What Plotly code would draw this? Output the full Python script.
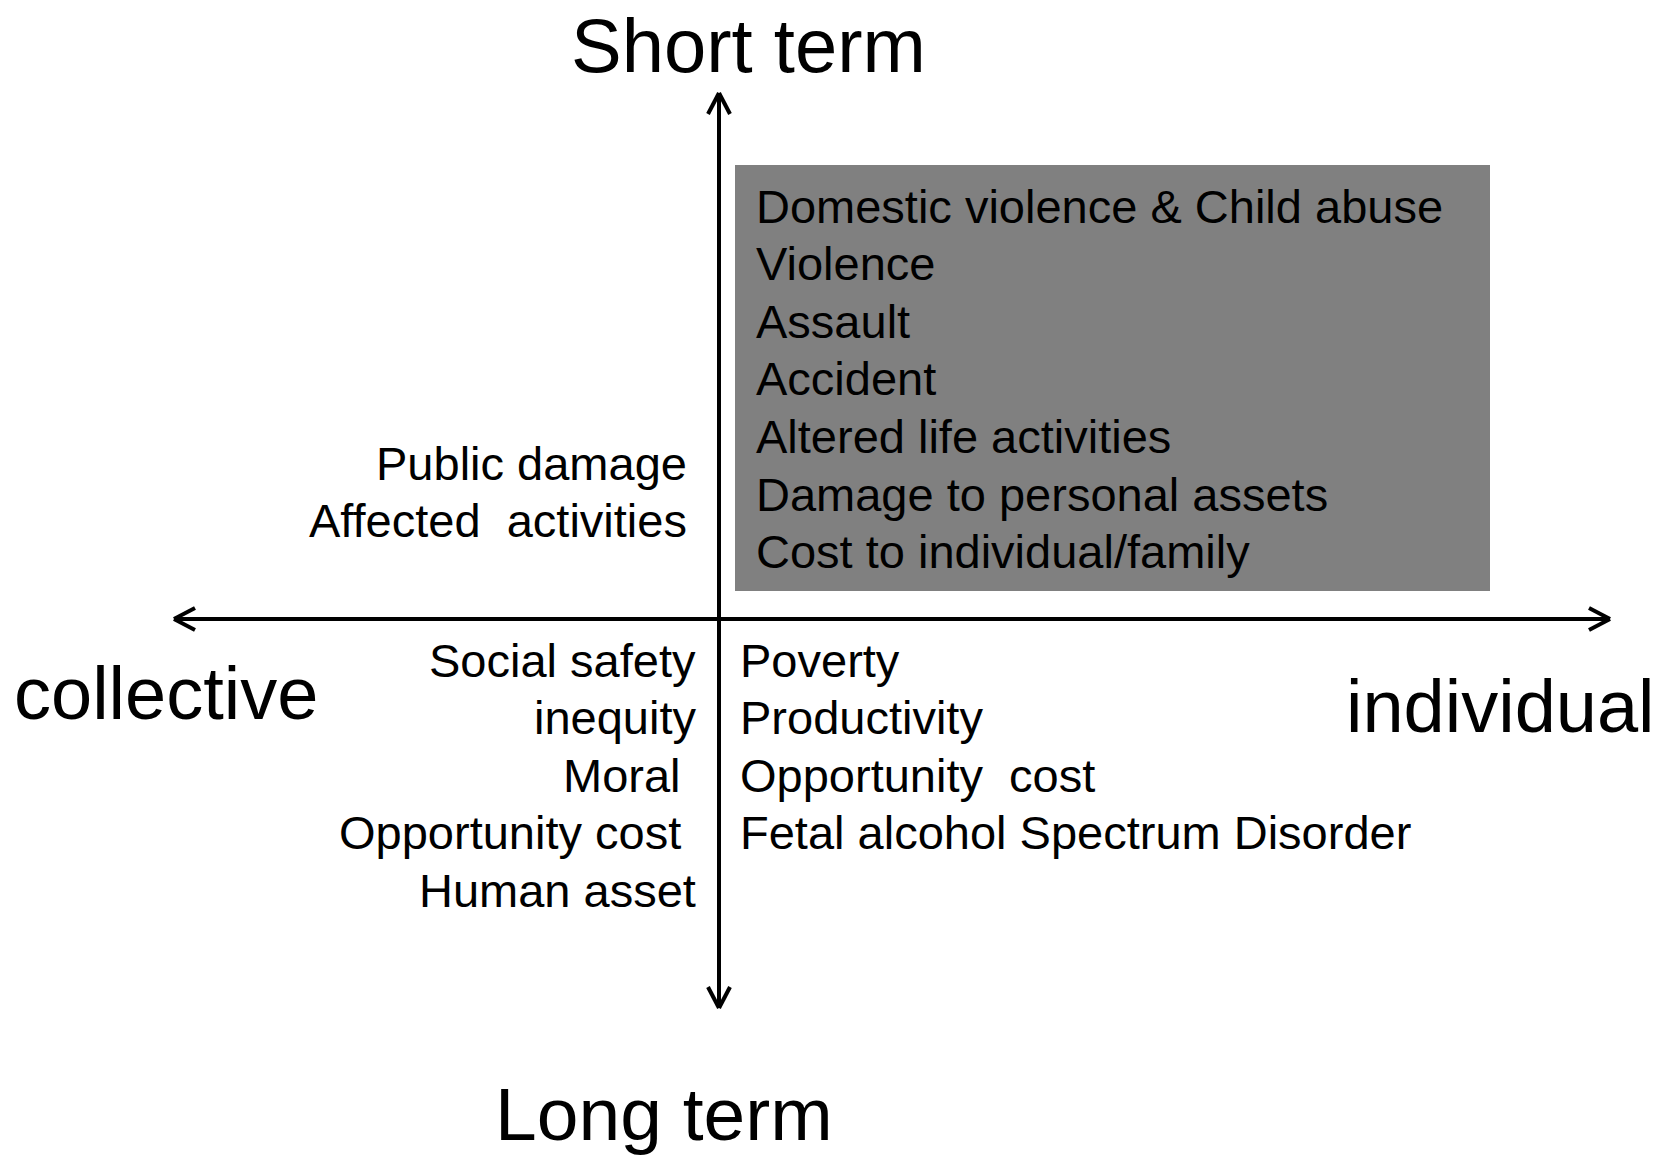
import plotly.graph_objects as go

W, H = 1658, 1155

# ---- content ----
title_top = "Short term"
title_bottom = "Long term"
label_left = "collective"
label_right = "individual"

box_items = [
    "Domestic violence & Child abuse",
    "Violence",
    "Assault",
    "Accident",
    "Altered life activities",
    "Damage to personal assets",
    "Cost to individual/family",
]
upper_left_items = ["Public damage", "Affected\u00a0\u00a0activities"]
lower_left_items = ["Social safety", "inequity", "Moral", "Opportunity cost", "Human asset"]
lower_left_right_edge = [698, 698, 683, 683, 698]
lower_right_items = ["Poverty", "Productivity", "Opportunity\u00a0\u00a0cost",
                     "Fetal alcohol Spectrum Disorder"]

# ---- layout geometry (page pixels) ----
cx, cy = 719, 619
v_top, v_bot = 93, 1008
h_left, h_right = 174, 1610
box = dict(x0=735, y0=165, x1=1490, y1=591)
line_gap = 57.6
FONT = "Liberation Sans, Arial, sans-serif"
fs_small = 47
fs_big = 74

fig = go.Figure()
fig.add_trace(go.Scatter(x=[0, W], y=[0, H], mode="markers", marker=dict(opacity=0),
                         hoverinfo="skip", showlegend=False))

shapes = []
lw = 4
blk = "#000000"
shapes.append(dict(type="rect", x0=box["x0"], y0=box["y0"], x1=box["x1"], y1=box["y1"],
                   fillcolor="#808080", line=dict(width=0), layer="below"))
shapes.append(dict(type="line", x0=cx, y0=v_top, x1=cx, y1=v_bot, line=dict(color=blk, width=lw)))
shapes.append(dict(type="line", x0=h_left, y0=cy, x1=h_right, y1=cy, line=dict(color=blk, width=lw)))
al, aw = 21, 11
def chev(tx, ty, dx, dy, px, py):
    for s in (1, -1):
        shapes.append(dict(type="line", x0=tx, y0=ty, x1=tx + dx + s * px, y1=ty + dy + s * py,
                           line=dict(color=blk, width=lw)))
chev(cx, v_top, 0, al, aw, 0)
chev(cx, v_bot, 0, -al, aw, 0)
chev(h_left, cy, al, 0, 0, aw)
chev(h_right, cy, -al, 0, 0, aw)

ann = []
def txt(x, y, s, size, xanchor="left"):
    ann.append(dict(x=x, y=y, text=s, showarrow=False, xanchor=xanchor, yanchor="middle",
                    font=dict(family=FONT, size=size, color="black")))

txt(748, 45, title_top, 76, "center")
txt(664, 1114, title_bottom, 75, "center")
txt(12, 693, label_left, fs_big, "left")
txt(1344, 706, label_right, fs_big, "left")

for i, s in enumerate(box_items):
    txt(754, 206 + i * line_gap, s, fs_small, "left")
for i, s in enumerate(upper_left_items):
    txt(689, 463 + i * line_gap, s, fs_small, "right")
for i, s in enumerate(lower_left_items):
    txt(lower_left_right_edge[i], 660 + i * line_gap, s, fs_small, "right")
for i, s in enumerate(lower_right_items):
    txt(738, 660 + i * line_gap, s, fs_small, "left")

fig.update_layout(
    width=W, height=H,
    margin=dict(l=0, r=0, t=0, b=0, pad=0),
    paper_bgcolor="white", plot_bgcolor="white",
    xaxis=dict(range=[0, W], visible=False, fixedrange=True),
    yaxis=dict(range=[H, 0], visible=False, fixedrange=True),
    shapes=shapes, annotations=ann, showlegend=False,
)
fig.write_html(
    "out.html",
    config={"displayModeBar": False},
    post_script="document.body.style.margin='0px';document.body.style.overflow='hidden';",
)
